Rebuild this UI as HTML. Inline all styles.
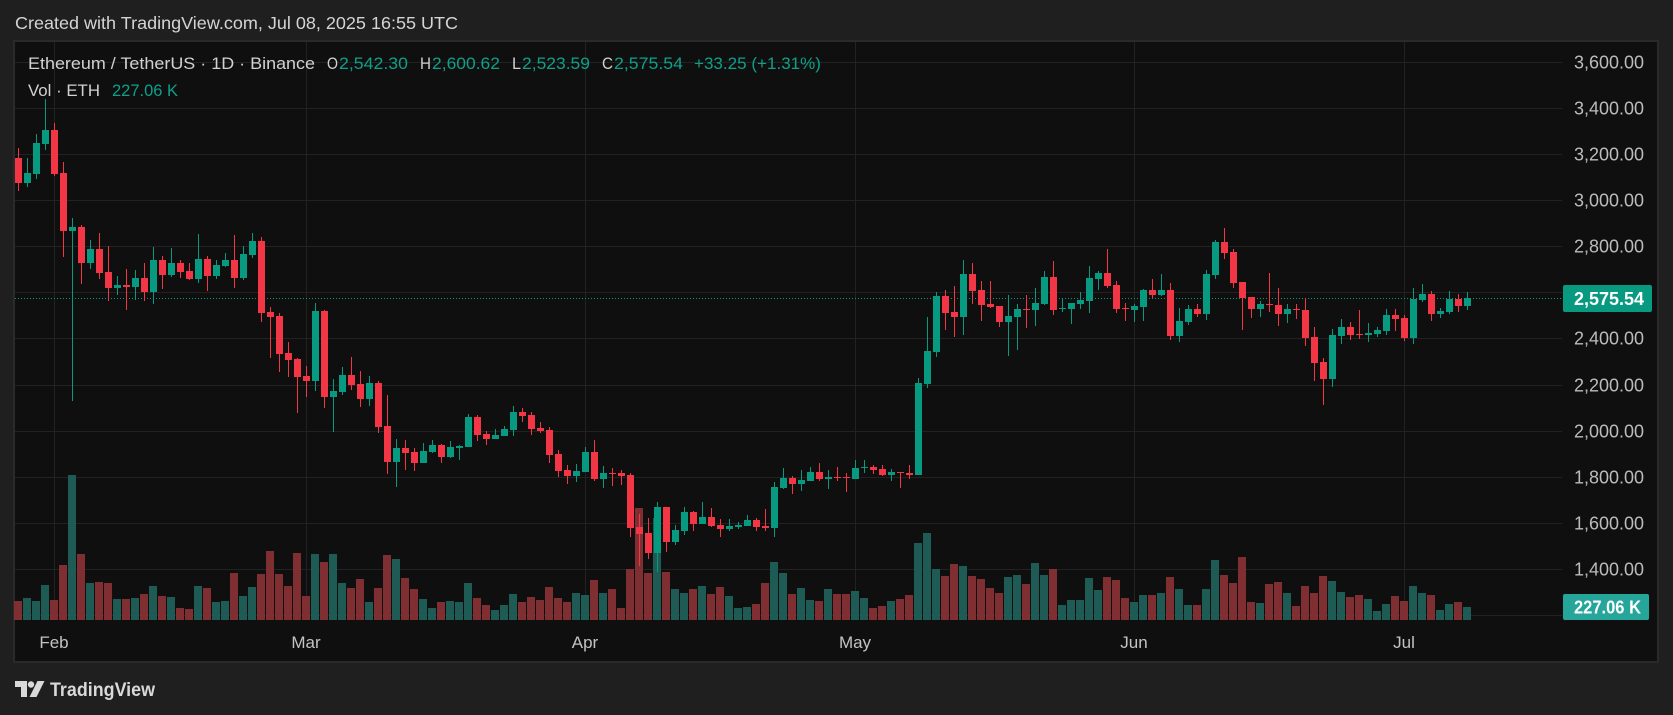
<!DOCTYPE html>
<html>
<head>
<meta charset="utf-8">
<style>
html,body{margin:0;padding:0;background:#1f1f1f;width:1673px;height:715px;overflow:hidden}
svg{display:block}
</style>
</head>
<body>
<svg id="s" width="1673" height="715" viewBox="0 0 1673 715" xmlns="http://www.w3.org/2000/svg" font-family="'Liberation Sans', Arial, sans-serif">
<rect width="1673" height="715" fill="#1f1f1f"/>
<text x="15" y="29" font-size="17.5" fill="#d4d4d4" textLength="443" lengthAdjust="spacingAndGlyphs">Created with TradingView.com, Jul 08, 2025 16:55 UTC</text>
<rect x="13" y="40" width="1646" height="623" fill="#2a2a2a"/>
<rect x="15" y="42" width="1642" height="619" fill="#0f0f0f"/>
<g id="grid" shape-rendering="crispEdges"></g>
<g id="vol" shape-rendering="crispEdges"></g>
<line x1="15" y1="298.5" x2="1562" y2="298.5" stroke="#089981" stroke-width="1" stroke-dasharray="1 2"/>
<g id="cdl" shape-rendering="crispEdges"></g>

<!-- legend -->
<g font-size="17">
<text x="28" y="69" fill="#d1d1d1" textLength="287" lengthAdjust="spacingAndGlyphs">Ethereum / TetherUS · 1D · Binance</text>
<text x="327" y="69" fill="#d1d1d1" textLength="11" lengthAdjust="spacingAndGlyphs">O</text>
<text x="339" y="69" fill="#0fa08a" textLength="69" lengthAdjust="spacingAndGlyphs">2,542.30</text>
<text x="420" y="69" fill="#d1d1d1" textLength="11" lengthAdjust="spacingAndGlyphs">H</text>
<text x="432" y="69" fill="#0fa08a" textLength="68" lengthAdjust="spacingAndGlyphs">2,600.62</text>
<text x="512" y="69" fill="#d1d1d1" textLength="9" lengthAdjust="spacingAndGlyphs">L</text>
<text x="522" y="69" fill="#0fa08a" textLength="68" lengthAdjust="spacingAndGlyphs">2,523.59</text>
<text x="602" y="69" fill="#d1d1d1" textLength="11" lengthAdjust="spacingAndGlyphs">C</text>
<text x="614" y="69" fill="#0fa08a" textLength="69" lengthAdjust="spacingAndGlyphs">2,575.54</text>
<text x="694" y="69" fill="#0fa08a" textLength="127" lengthAdjust="spacingAndGlyphs">+33.25 (+1.31%)</text>
<text x="28" y="96" fill="#d1d1d1" textLength="72" lengthAdjust="spacingAndGlyphs">Vol · ETH</text>
<text x="112" y="96" fill="#0fa08a" textLength="66" lengthAdjust="spacingAndGlyphs">227.06 K</text>
</g>

<g id="axis" font-size="18" fill="#bcbcbc"></g>

<!-- price box -->
<rect x="1563" y="285" width="89" height="27" rx="2" fill="#089981"/>
<text x="1574" y="305" font-size="18" font-weight="bold" fill="#ffffff" textLength="70" lengthAdjust="spacingAndGlyphs">2,575.54</text>
<!-- volume box -->
<rect x="1563" y="594" width="86" height="26" rx="2" fill="#26a69a"/>
<text x="1574" y="613.5" font-size="18" font-weight="bold" fill="#ffffff" textLength="67" lengthAdjust="spacingAndGlyphs">227.06 K</text>

<!-- time axis -->
<g font-size="17" fill="#c3c3c3" text-anchor="middle">
<text x="54" y="648">Feb</text>
<text x="306" y="648">Mar</text>
<text x="585" y="648">Apr</text>
<text x="855" y="648">May</text>
<text x="1134" y="648">Jun</text>
<text x="1404" y="648">Jul</text>
</g>

<!-- logo -->
<g fill="#d9d9d9">
<path d="M15 681 H27 V697 H21 V687 H15 Z"/>
<circle cx="31" cy="684.5" r="3.2"/>
<polygon points="37.5,681 44.5,681 36.5,697 29.5,697"/>
<text x="50" y="696" font-size="19" font-weight="bold" textLength="105" lengthAdjust="spacingAndGlyphs">TradingView</text>
</g>
</svg>
<script>
(function(){
var NS="http://www.w3.org/2000/svg";
function R(g,x,y,w,h,f){var r=document.createElementNS(NS,"rect");r.setAttribute("x",x);r.setAttribute("y",y);r.setAttribute("width",w);r.setAttribute("height",h);r.setAttribute("fill",f);g.appendChild(r);}
var grid=document.getElementById("grid"),vol=document.getElementById("vol"),cdl=document.getElementById("cdl"),axis=document.getElementById("axis");
// horizontal gridlines
var labels=["3,600.00","3,400.00","3,200.00","3,000.00","2,800.00","2,600.00","2,400.00","2,200.00","2,000.00","1,800.00","1,600.00","1,400.00"];
for(var k=0;k<13;k++){
  var y=Math.round(62+46.08*k);
  R(grid,15,y,1547,1,"#222222");
  if(k<12){
    var t=document.createElementNS(NS,"text");
    t.setAttribute("x",1644);t.setAttribute("y",y+6.5);t.setAttribute("text-anchor","end");
    t.setAttribute("textLength","70");t.setAttribute("lengthAdjust","spacingAndGlyphs");
    t.textContent=labels[k];axis.appendChild(t);
  }
}
[54,306,585,855,1134,1404].forEach(function(x){R(grid,x,42,1,578,"#222222");});

var A=[[0,210,285,180,308],[1,255,285,210,296],[1,165,258,138,272],[1,126,168,33,185],[0,126,258,105,263],[0,255,428,222,506],[1,417,428,390,940],[0,417,524,410,587],[1,483,524,456,542],[0,483,554,435,572],[0,552,600,474,638],[1,591,600,564,620],[0,591,597,543,665],[1,570,597,546,636],[0,570,612,525,640],[1,516,612,477,647],[0,516,561,504,603],[1,525,561,480,566],[0,525,552,516,570],[0,549,573,525,576],[1,513,573,438,585],[0,513,564,504,608],[1,531,564,516,573],[1,516,534,495,537],[0,516,570,441,600],[1,498,570,474,575],[1,459,501,435,510],[0,459,675,447,702],[0,672,687,657,810],[0,684,798,675,852],[0,795,816,762,867],[0,813,867,810,975],[0,864,879,834,927],[1,669,879,645,909],[0,669,927,665,960],[1,909,927,873,1032],[1,861,912,837,921],[0,861,891,807,906],[0,888,933,849,957],[1,885,933,864,954],[0,885,1017,879,1035],[0,1014,1122,921,1158],[1,1080,1122,1053,1197],[0,1080,1095,1056,1146],[0,1092,1125,1080,1149],[1,1089,1125,1065,1125],[1,1071,1092,1056,1095],[0,1071,1107,1068,1125],[1,1077,1107,1059,1110],[1,1074,1080,1071,1116],[1,987,1077,978,1077],[0,987,1041,981,1059],[0,1038,1053,1029,1071],[1,1041,1053,1023,1053],[1,1023,1044,1014,1044]];
var B=[[1,516,570,498,587],[0,516,528,504,546],[0,525,567,516,585],[0,564,573,546,579],[0,570,645,561,669],[0,642,693,630,711],[0,690,708,675,732],[1,693,708,672,726],[1,636,696,621,696],[0,636,717,600,723],[1,699,717,678,744],[0,699,702,684,738],[0,699,708,690,735],[0,705,864,699,891],[0,861,882,822,978],[0,879,939,834,957],[1,801,939,786,996],[0,801,906,801,936],[1,870,906,855,915],[1,816,873,801,885],[0,816,852,813,873],[1,831,852,786,852],[0,831,858,804,861],[0,855,867,837,891],[1,858,867,837,873],[1,855,861,846,867],[1,840,858,825,858],[0,840,861,834,873],[0,858,864,807,873],[1,741,864,726,891],[1,714,744,684,747],[0,714,732,708,762],[1,720,732,690,753],[1,696,723,681,723],[0,696,717,669,723],[1,711,717,690,747],[0,711,714,681,723],[0,711,714,699,756],[1,684,717,660,717],[1,681,684,660,699],[0,681,690,675,702],[0,687,705,675,708],[1,696,705,687,723],[0,696,699,696,744],[0,699,705,675,717],[1,429,705,414,705],[1,333,432,231,444],[1,168,336,156,351],[0,168,219,150,270],[0,216,231,138,291],[1,102,231,60,285],[0,102,153,69,192],[0,150,195,123,243],[0,192,201,123,204],[0,198,246,198,261]];
var C=[[1,333,351,270,452],[1,312,336,297,435],[0,312,315,270,369],[1,294,315,249,363],[1,216,297,198,300],[0,216,315,168,330],[1,309,312,279,321],[1,294,312,294,357],[1,285,297,261,312],[1,219,288,183,324],[1,204,222,198,255],[0,204,243,132,249],[0,240,312,228,324],[0,309,312,294,348],[1,303,315,297,351],[1,255,306,252,348],[0,255,270,222,279],[1,255,270,207,273],[0,255,393,234,405],[1,348,393,309,411],[1,312,351,300,360],[0,312,327,297,336],[1,207,327,195,345],[1,111,210,105,222],[0,111,144,69,162],[0,141,234,132,249],[0,231,279,231,375],[0,276,312,276,339],[1,297,312,288,336],[0,297,300,204,321],[0,300,327,249,363],[1,312,327,297,354],[0,312,315,297,342],[0,315,399,279,423],[0,396,474,366,528],[0,471,522,459,600],[1,390,522,372,546],[1,366,393,342,417],[0,366,390,351,405],[0,387,390,315,402],[1,384,390,354,411],[1,375,387,366,396],[1,330,378,312,390],[0,330,342,312,378],[0,339,399,330,408],[1,282,399,249,417],[1,267,285,237,291],[0,267,327,258,348],[1,318,327,309,339],[1,282,321,258,327],[0,282,303,267,321],[1,279,303,261,315]];
var V=[399,390,399,351,396,291,21,258,345,342,345,393,393,390,378,354,384,387,420,423,354,360,402,399,315,384,357,318,249,318,354,255,384,258,282,258,345,360,333,402,360,261,273,330,363,393,420,402,399,402,345,390,411,426,411,
378,402,387,396,357,390,402,375,381,336,375,363,420,303,120,315,150,312,363,375,363,354,378,357,384,420,417,408,345,282,315,378,360,396,399,363,378,378,369,390,420,414,399,393,381,225,195,303,324,288,294,324,333,360,375,
327,321,348,285,321,303,411,396,396,330,366,327,336,390,402,381,381,375,327,363,411,411,363,276,321,345,267,402,405,348,342,375,414,354,375,324,339,372,387,381,393,429,408,384,399,354,375,381,426,408,402,417];
var segs=[[A,88],[B,240],[C,205]];
var all=[];
segs.forEach(function(s){s[0].forEach(function(c){all.push([c[0],s[1]+c[1]/3,s[1]+c[2]/3,s[1]+c[3]/3,s[1]+c[4]/3]);});});
// volume
for(var i=0;i<all.length;i++){
  var vt=Math.round(468+V[i]/3);
  R(vol,14+9*i,vt,8,620-vt,all[i][0]?"#1e5b55":"#7f2f31");
}
// candles
for(var i=0;i<all.length;i++){
  var c=all[i],col=c[0]?"#089981":"#f23645";
  var wt=Math.round(c[3]),wb=Math.round(c[4]);
  R(cdl,18+9*i,wt,1,Math.max(1,wb-wt),col);
  var bt=Math.round(c[1]),bb=Math.round(c[2]);
  R(cdl,15+9*i,bt,7,Math.max(1,bb-bt),col);
}
})();
</script>
</body>
</html>
